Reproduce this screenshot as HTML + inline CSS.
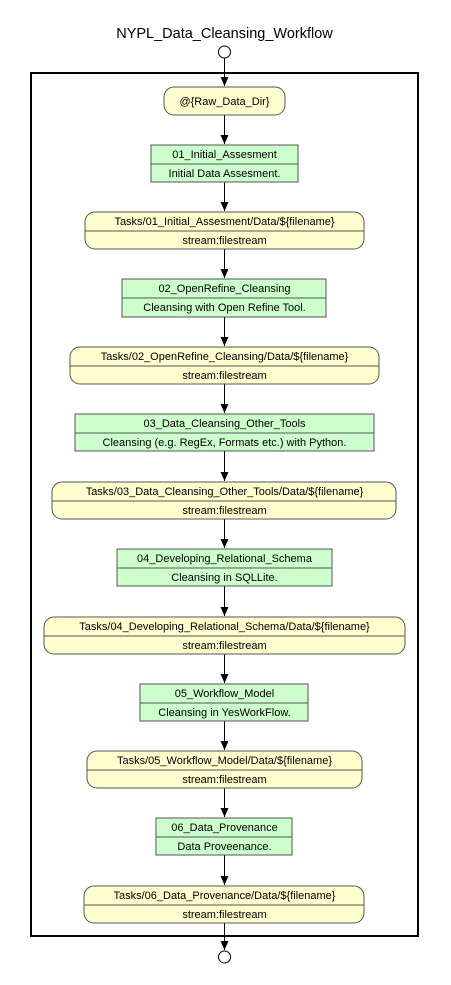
<!DOCTYPE html>
<html><head><meta charset="utf-8"><style>
html,body{margin:0;padding:0;background:#fff;}
svg text{font-family:"Liberation Sans",Arial,sans-serif;font-size:11px;fill:#000;}
</style></head><body>
<svg width="451" height="980" viewBox="0 0 451 980" xmlns="http://www.w3.org/2000/svg">
<defs><marker id="a" markerWidth="10" markerHeight="10" refX="9" refY="5" orient="auto" markerUnits="userSpaceOnUse"><path d="M0,1 L9,5 L0,9 Z" fill="#000"/></marker></defs>
<text x="224.5" y="38" text-anchor="middle" style="font-size:14.5px">NYPL_Data_Cleansing_Workflow</text>
<circle cx="224.5" cy="52" r="6" fill="#fff" stroke="#000"/>
<rect x="31" y="73" width="387" height="863" fill="none" stroke="#000" stroke-width="2"/>
<g stroke="#000" stroke-width="1" marker-end="url(#a)">
<line x1="224.5" y1="58" x2="224.5" y2="86"/>
<line x1="224.5" y1="115" x2="224.5" y2="144"/>
<line x1="224.5" y1="182" x2="224.5" y2="211"/>
<line x1="224.5" y1="249" x2="224.5" y2="278"/>
<line x1="224.5" y1="317" x2="224.5" y2="346"/>
<line x1="224.5" y1="384" x2="224.5" y2="413"/>
<line x1="224.5" y1="451" x2="224.5" y2="481"/>
<line x1="224.5" y1="519" x2="224.5" y2="548"/>
<line x1="224.5" y1="586" x2="224.5" y2="616"/>
<line x1="224.5" y1="654" x2="224.5" y2="683"/>
<line x1="224.5" y1="721" x2="224.5" y2="750"/>
<line x1="224.5" y1="788" x2="224.5" y2="817"/>
<line x1="224.5" y1="855" x2="224.5" y2="885"/>
<line x1="224.5" y1="923" x2="224.5" y2="950"/>
</g>
<circle cx="224.5" cy="957" r="6" fill="#fff" stroke="#000"/>
<g stroke="#555" stroke-width="1">
<rect x="164" y="87" width="121" height="28" rx="10" fill="#fefece"/>
<rect x="151" y="145" width="147" height="37" fill="#ccffcc"/><line x1="151" y1="164" x2="298" y2="164"/>
<rect x="85" y="212" width="279" height="37" rx="10" fill="#fefece"/><line x1="85" y1="231" x2="364" y2="231"/>
<rect x="122" y="279" width="204" height="38" fill="#ccffcc"/><line x1="122" y1="298" x2="326" y2="298"/>
<rect x="70" y="347" width="309" height="37" rx="10" fill="#fefece"/><line x1="70" y1="366" x2="379" y2="366"/>
<rect x="75" y="414" width="299" height="37" fill="#ccffcc"/><line x1="75" y1="433" x2="374" y2="433"/>
<rect x="52" y="482" width="344" height="37" rx="10" fill="#fefece"/><line x1="52" y1="501" x2="396" y2="501"/>
<rect x="117" y="549" width="215" height="37" fill="#ccffcc"/><line x1="117" y1="568" x2="332" y2="568"/>
<rect x="44" y="617" width="361" height="37" rx="10" fill="#fefece"/><line x1="44" y1="636" x2="405" y2="636"/>
<rect x="140" y="684" width="168" height="37" fill="#ccffcc"/><line x1="140" y1="703" x2="308" y2="703"/>
<rect x="87" y="751" width="275" height="37" rx="10" fill="#fefece"/><line x1="87" y1="770" x2="362" y2="770"/>
<rect x="156" y="818" width="136" height="37" fill="#ccffcc"/><line x1="156" y1="837" x2="292" y2="837"/>
<rect x="84" y="886" width="280" height="37" rx="10" fill="#fefece"/><line x1="84" y1="905" x2="364" y2="905"/>
</g>
<g text-anchor="middle">
<text x="224.5" y="105">@{Raw_Data_Dir}</text>
<text x="224.5" y="158">01_Initial_Assesment</text><text x="224.5" y="177">Initial Data Assesment.</text>
<text x="224.5" y="225">Tasks/01_Initial_Assesment/Data/${filename}</text><text x="224.5" y="244">stream:filestream</text>
<text x="224.5" y="292">02_OpenRefine_Cleansing</text><text x="224.5" y="311">Cleansing with Open Refine Tool.</text>
<text x="224.5" y="360">Tasks/02_OpenRefine_Cleansing/Data/${filename}</text><text x="224.5" y="379">stream:filestream</text>
<text x="224.5" y="427">03_Data_Cleansing_Other_Tools</text><text x="224.5" y="446">Cleansing (e.g. RegEx, Formats etc.) with Python.</text>
<text x="224.5" y="495">Tasks/03_Data_Cleansing_Other_Tools/Data/${filename}</text><text x="224.5" y="514">stream:filestream</text>
<text x="224.5" y="562">04_Developing_Relational_Schema</text><text x="224.5" y="581">Cleansing in SQLLite.</text>
<text x="224.5" y="630">Tasks/04_Developing_Relational_Schema/Data/${filename}</text><text x="224.5" y="649">stream:filestream</text>
<text x="224.5" y="697">05_Workflow_Model</text><text x="224.5" y="716">Cleansing in YesWorkFlow.</text>
<text x="224.5" y="764">Tasks/05_Workflow_Model/Data/${filename}</text><text x="224.5" y="783">stream:filestream</text>
<text x="224.5" y="831">06_Data_Provenance</text><text x="224.5" y="850">Data Proveenance.</text>
<text x="224.5" y="899">Tasks/06_Data_Provenance/Data/${filename}</text><text x="224.5" y="918">stream:filestream</text>
</g>
</svg>
</body></html>
